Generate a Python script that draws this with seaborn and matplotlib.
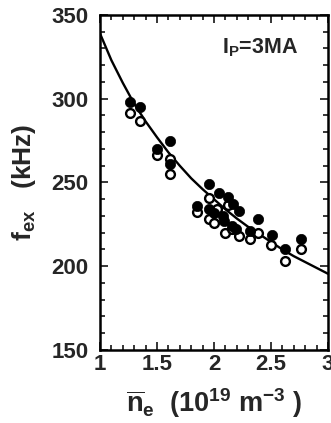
import matplotlib
matplotlib.use("Agg")
import matplotlib.pyplot as plt
import seaborn as sns
import pandas as pd
from matplotlib.ticker import MultipleLocator

# Data
filled_n = [1.26, 1.35, 1.50, 1.61, 1.61, 1.85, 1.96, 1.96, 2.04, 2.00, 2.08, 2.09,
            2.125, 2.17, 2.22, 2.16, 2.19, 2.39, 2.32, 2.51, 2.62, 2.76]
filled_f = [298, 295, 270, 275, 261, 236, 249, 234, 244, 232, 230, 227,
            241.5, 237, 233, 224, 222, 228, 221, 218.5, 210, 216]

open_n = [1.26, 1.35, 1.50, 1.61, 1.61, 1.85, 1.96, 1.96, 2.03, 2.00, 2.12, 2.10,
          2.22, 2.16, 2.39, 2.32, 2.50, 2.62, 2.76]
open_f = [291.5, 286.5, 266.5, 264, 255, 232.5, 240.5, 228, 234, 226, 236.5, 220,
          218, 222, 220, 216, 212.5, 203, 210]

curve_n = [1.0, 1.1, 1.2, 1.3, 1.4, 1.5, 1.6, 1.7, 1.8, 1.9, 2.0, 2.1, 2.2, 2.3,
           2.4, 2.5, 2.6, 2.7, 2.8, 2.9, 3.0]
curve_f = [339, 323, 309.5, 297, 286.5, 277, 268, 260, 252.5, 246, 240, 234, 228.5,
           223.5, 219, 214.5, 210, 206, 202.5, 199, 195.5]

x_ticks = [1, 1.5, 2, 2.5, 3]
x_tick_labels = ["1", "1.5", "2", "2.5", "3"]
y_ticks = [150, 200, 250, 300, 350]

sns.set_style("ticks")
plt.rcParams["font.family"] = ["Liberation Sans", "DejaVu Sans"]
plt.rcParams["font.weight"] = "bold"
plt.rcParams["mathtext.fontset"] = "custom"
plt.rcParams["mathtext.rm"] = "Liberation Sans:bold"
plt.rcParams["mathtext.it"] = "Liberation Sans:bold"
plt.rcParams["mathtext.bf"] = "Liberation Sans:bold"

df_filled = pd.DataFrame({"n": filled_n, "f": filled_f})
df_open = pd.DataFrame({"n": open_n, "f": open_f})
df_curve = pd.DataFrame({"n": curve_n, "f": curve_f})

fig = plt.figure(figsize=(3.31, 4.23), dpi=100)
ax = fig.add_axes([0.302, 0.1726, 0.689, 0.792])

sns.lineplot(data=df_curve, x="n", y="f", ax=ax, color="black", linewidth=1.7,
             sort=True, legend=False)
sns.scatterplot(data=df_open, x="n", y="f", ax=ax, marker="o", s=40,
                facecolor="white", edgecolor="black", linewidth=1.7, zorder=3)
sns.scatterplot(data=df_filled, x="n", y="f", ax=ax, marker="o", s=55,
                color="black", edgecolor="black", linewidth=0.5, zorder=4)

ax.set_xlim(1, 3)
ax.set_ylim(150, 350)
ax.set_xticks(x_ticks)
ax.set_xticklabels(x_tick_labels)
ax.set_yticks(y_ticks)
ax.xaxis.set_minor_locator(MultipleLocator(0.1))
ax.yaxis.set_minor_locator(MultipleLocator(10))
ax.tick_params(which="both", direction="in", top=True, right=True, width=1.3,
               labelsize=16)
ax.tick_params(axis="x", which="major", pad=3)
ax.tick_params(axis="y", which="major", pad=8)
ax.tick_params(which="major", length=6)
ax.tick_params(which="minor", length=3.5)
for lab in ax.get_xticklabels() + ax.get_yticklabels():
    lab.set_fontweight("bold")
for sp in ax.spines.values():
    sp.set_linewidth(1.8)
    sp.set_color("black")

ax.set_xlabel(r"$\overline{\mathrm{n}}_{\mathrm{e}}$  (10$^{19}$ m$^{-3}$ )",
              fontsize=19.5, fontweight="bold", labelpad=8)
ax.set_ylabel(r"$\mathrm{f}_{\mathrm{ex}}$   (kHz)", fontsize=19,
              fontweight="bold", labelpad=10)

ax.text(2.07, 327.3, r"I$_{\mathrm{P}}$=3MA", fontsize=15.5, fontweight="bold",
        ha="left", va="baseline")

fig.savefig("out.png", dpi=100)
